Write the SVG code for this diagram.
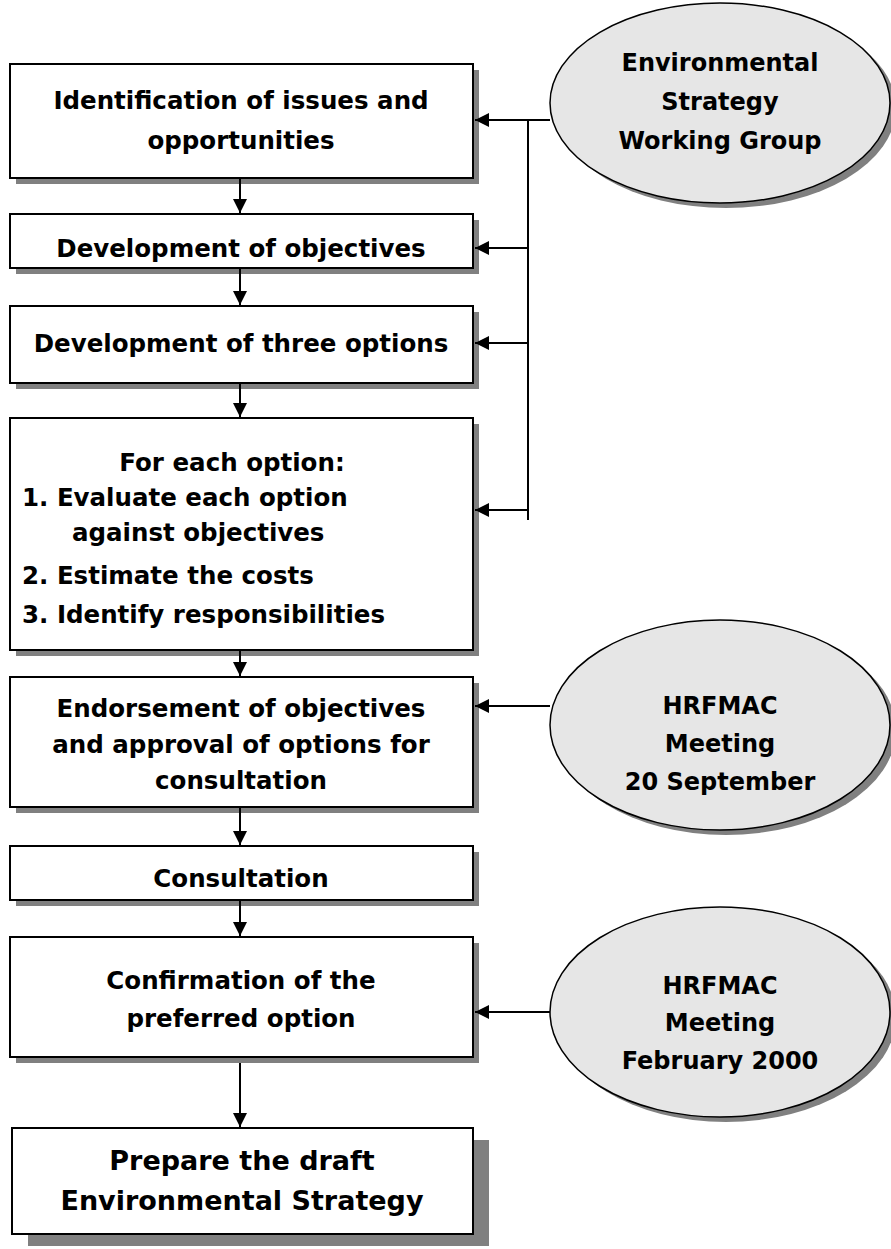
<svg xmlns="http://www.w3.org/2000/svg" width="891" height="1249" viewBox="0 0 891 1249">
<defs>
<style>
.box{fill:#fff;stroke:#000;stroke-width:2}
.sh{fill:#808080}
.ell{fill:#e6e6e6;stroke:#000;stroke-width:1.5}
.t{font-family:"DejaVu Sans",sans-serif;font-weight:bold;font-size:24.5px;fill:#000;text-anchor:middle}
.tl{font-family:"DejaVu Sans",sans-serif;font-weight:bold;font-size:24.5px;fill:#000}
.e{font-size:24px}
.big{font-size:27px}
.c{stroke:#000;stroke-width:2;fill:none}
</style>
<marker id="ah" viewBox="0 0 10 10" refX="10" refY="5" markerWidth="7" markerHeight="7" markerUnits="strokeWidth" orient="auto">
<path d="M0,0 L10,5 L0,10 z" fill="#000"/>
</marker>
</defs>
<g id="n-esw">
<ellipse class="sh" cx="726" cy="108" rx="170" ry="100"/>
<ellipse class="ell" cx="720" cy="103" rx="170" ry="100"/>
<text class="t e" x="720" y="71">Environmental</text>
<text class="t e" x="720" y="110">Strategy</text>
<text class="t e" x="720" y="149">Working Group</text>
</g>
<g id="n-id">
<rect class="sh" x="16" y="70" width="463" height="114"/>
<rect class="box" x="10" y="64" width="463" height="114"/>
<text class="t" x="241" y="109">Identification of issues and</text>
<text class="t" x="241" y="149">opportunities</text>
</g>
<g id="n-obj">
<rect class="sh" x="16" y="220" width="463" height="54"/>
<rect class="box" x="10" y="214" width="463" height="54"/>
<text class="t" x="241" y="257">Development of objectives</text>
</g>
<g id="n-opt">
<rect class="sh" x="16" y="312" width="463" height="77"/>
<rect class="box" x="10" y="306" width="463" height="77"/>
<text class="t" x="241" y="352">Development of three options</text>
</g>
<g id="n-each">
<rect class="sh" x="16" y="424" width="463" height="232"/>
<rect class="box" x="10" y="418" width="463" height="232"/>
<text class="t" x="232" y="471">For each option:</text>
<text class="tl" x="22" y="506">1. Evaluate each option</text>
<text class="tl" x="72" y="541">against objectives</text>
<text class="tl" x="22" y="584">2. Estimate the costs</text>
<text class="tl" x="22" y="623">3. Identify responsibilities</text>
</g>
<g id="n-end">
<rect class="sh" x="16" y="683" width="463" height="130"/>
<rect class="box" x="10" y="677" width="463" height="130"/>
<text class="t" x="241" y="717">Endorsement of objectives</text>
<text class="t" x="241" y="753">and approval of options for</text>
<text class="t" x="241" y="789">consultation</text>
</g>
<g id="n-hr1">
<ellipse class="sh" cx="726" cy="730" rx="170" ry="105"/>
<ellipse class="ell" cx="720" cy="725" rx="170" ry="105"/>
<text class="t e" x="720" y="714">HRFMAC</text>
<text class="t e" x="720" y="752">Meeting</text>
<text class="t e" x="720" y="790">20 September</text>
</g>
<g id="n-cons">
<rect class="sh" x="16" y="852" width="463" height="54"/>
<rect class="box" x="10" y="846" width="463" height="54"/>
<text class="t" x="241" y="887">Consultation</text>
</g>
<g id="n-conf">
<rect class="sh" x="16" y="943" width="463" height="120"/>
<rect class="box" x="10" y="937" width="463" height="120"/>
<text class="t" x="241" y="989">Confirmation of the</text>
<text class="t" x="241" y="1027">preferred option</text>
</g>
<g id="n-hr2">
<ellipse class="sh" cx="726" cy="1017" rx="170" ry="105"/>
<ellipse class="ell" cx="720" cy="1012" rx="170" ry="105"/>
<text class="t e" x="720" y="994">HRFMAC</text>
<text class="t e" x="720" y="1031">Meeting</text>
<text class="t e" x="720" y="1069">February 2000</text>
</g>
<g id="n-draft">
<rect class="sh" x="28" y="1140" width="461" height="106"/>
<rect class="box" x="12" y="1128" width="461" height="106"/>
<text class="t big" x="242" y="1170">Prepare the draft</text>
<text class="t big" x="242" y="1210">Environmental Strategy</text>
</g>
<g id="connectors">
<path class="c" d="M528,120 V520"/>
<path class="c" d="M550,120 H475" marker-end="url(#ah)"/>
<path class="c" d="M528,248 H475" marker-end="url(#ah)"/>
<path class="c" d="M528,343 H475" marker-end="url(#ah)"/>
<path class="c" d="M528,510 H475" marker-end="url(#ah)"/>
<path class="c" d="M550,706 H475" marker-end="url(#ah)"/>
<path class="c" d="M550,1012 H475" marker-end="url(#ah)"/>
<path class="c" d="M240,178 V213" marker-end="url(#ah)"/>
<path class="c" d="M240,268 V305" marker-end="url(#ah)"/>
<path class="c" d="M240,383 V417" marker-end="url(#ah)"/>
<path class="c" d="M240,650 V676" marker-end="url(#ah)"/>
<path class="c" d="M240,807 V845" marker-end="url(#ah)"/>
<path class="c" d="M240,900 V936" marker-end="url(#ah)"/>
<path class="c" d="M240,1063 V1127" marker-end="url(#ah)"/>
</g>
</svg>
